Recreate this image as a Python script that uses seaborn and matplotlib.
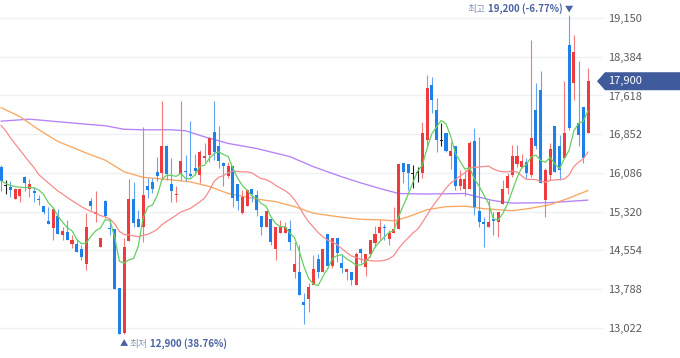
import numpy as np
import pandas as pd
import seaborn as sns
import matplotlib
matplotlib.use("Agg")
import matplotlib.pyplot as plt
import matplotlib.transforms as mtrans
from matplotlib.patches import Polygon

# ---------------- data ----------------
opens = [16210, 15830, 15800, 15570, 15630, 16010, 15770, 15730, 15570, 15430,
         15140, 14990, 15240, 14860, 14910, 14680, 14680, 14580, 14280, 15530,
         15270, 14620, 15530, 14990, 14970, 13820, 12920, 14740, 15570, 15170,
         15020, 15830, 15910, 16110, 16080, 16610, 15860, 15650, 16070, 16130,
         16070, 16190, 16050, 16390, 16440, 16900, 16620, 16280, 16030, 16220,
         15870, 15290, 15430, 15760, 15650, 15240, 15010, 15170, 14580, 14890,
         14890, 14970, 14130, 14130, 13530, 13590, 13870, 14380, 14130, 14870,
         14250, 14810, 14310, 14130, 14120, 13870, 14580, 14230, 14480, 14700,
         14890, 15020, 14790, 14890, 14970, 16280, 16260, 16070, 16080, 16080,
         16740, 17830, 17330, 16720, 16870, 16420, 16610, 15830, 15760, 15760,
         16720, 15340, 15120, 15020, 15170, 15120, 15480, 15780, 16050, 16260,
         16210, 16310, 16050, 17330, 17730, 15550, 16050, 17020, 16620, 16380,
         18620, 17870, 17070, 17400, 16870]
highs = [16240, 15950, 15930, 15780, 15780, 16030, 15960, 15800, 15660, 15430,
         15410, 15370, 15370, 15020, 15160, 14860, 14780, 14660, 15290, 15590,
         15720, 14810, 15550, 15170, 14970, 13820, 14810, 15960, 15910, 15350,
         17000, 15980, 15990, 16410, 17500, 16640, 16380, 15820, 17510, 16440,
         17110, 16460, 16540, 16670, 16800, 17510, 17020, 16310, 16310, 16220,
         15870, 15750, 15760, 15760, 15750, 15240, 15340, 15170, 15010, 15160,
         15120, 15160, 14730, 14660, 13710, 13920, 14460, 14480, 14580, 14870,
         14810, 14810, 14480, 14180, 14120, 14530, 14600, 14480, 14770, 15040,
         15160, 15080, 14960, 15420, 16260, 16280, 16260, 16240, 16210, 17100,
         18020, 17990, 17560, 17070, 16870, 16690, 16610, 16150, 16150, 16720,
         16970, 16800, 15220, 15550, 15320, 15320, 15950, 16080, 16640, 16640,
         16460, 16380, 18720, 17870, 18100, 16180, 16670, 17020, 16840, 17900,
         19200, 18810, 18300, 17400, 18160]
lows = [15720, 15670, 15620, 15570, 15520, 15720, 15620, 15510, 15450, 15270,
        15070, 14760, 14880, 14760, 14770, 14600, 14530, 14370, 14170, 15350,
        15120, 14620, 15190, 14860, 13790, 12900, 12900, 14740, 15020, 15010,
        14730, 15590, 15700, 15930, 15950, 15950, 15520, 15520, 15950, 15930,
        16010, 16050, 15880, 16310, 16310, 16340, 16180, 15820, 15990, 15420,
        15350, 15280, 15430, 15520, 15240, 14860, 15010, 14660, 14370, 14890,
        14890, 14560, 14000, 13670, 13110, 13340, 13870, 14000, 14130, 14200,
        14210, 14330, 14100, 13970, 13870, 13870, 14300, 14040, 14430, 14630,
        14790, 14760, 14660, 14890, 14970, 15880, 15750, 15780, 15910, 15980,
        16610, 17270, 16510, 16620, 16510, 16160, 15740, 15740, 15630, 15760,
        15260, 15020, 14620, 15020, 14860, 14830, 15480, 15680, 16010, 16210,
        16180, 15980, 16010, 16570, 15880, 15220, 15950, 16110, 15950, 16380,
        16940, 17530, 16610, 16280, 16870]
closes = [15930, 15830, 15750, 15760, 15760, 15880, 15860, 15700, 15550, 15320,
          15070, 15370, 14880, 14930, 14770, 14770, 14530, 14430, 15010, 15430,
          15310, 14810, 15240, 14970, 13790, 12900, 14620, 15570, 15090, 15010,
          15660, 15740, 15760, 16030, 16610, 16070, 15720, 15670, 16320, 16100,
          16030, 16130, 16510, 16420, 16770, 16510, 16320, 16230, 16220, 15600,
          15530, 15610, 15750, 15670, 15350, 15020, 15340, 14730, 15010, 15020,
          15010, 14730, 14280, 13670, 13480, 13830, 14190, 14130, 14580, 14250,
          14810, 14500, 14200, 14180, 13970, 14480, 14500, 14480, 14770, 14870,
          15020, 14990, 14890, 14970, 16260, 16110, 16080, 16070, 16080, 16870,
          17760, 17530, 16740, 16720, 16530, 16530, 15830, 15960, 15960, 16670,
          15420, 15120, 15080, 15120, 15140, 15320, 15760, 16030, 16420, 16420,
          16320, 16080, 16770, 16610, 15880, 16150, 16570, 16110, 16150, 16870,
          16970, 18480, 16840, 16380, 17900]

# first 19 points of the 20-day average (history before the visible window)
ma20_head = [17030, 16920, 16780, 16660, 16540, 16420, 16300, 16190, 16050,
             15970, 15890, 15810, 15730, 15670, 15600, 15540, 15480, 15420, 15370]

ma60_idx = [0, 4, 8, 12, 18, 22, 26, 30, 36, 40, 44, 48, 54, 58, 62, 66, 72,
            76, 80, 83, 86, 90, 94, 98, 102, 108, 112, 116, 120, 124]
ma60_val = [17380, 17200, 16940, 16710, 16480, 16340, 16110, 16000, 15950,
            15910, 15820, 15680, 15570, 15520, 15420, 15290, 15210, 15170,
            15160, 15140, 15220, 15360, 15420, 15430, 15380, 15340, 15390,
            15460, 15590, 15740]

ma120_idx = [0, 6, 12, 18, 22, 26, 30, 36, 39, 43, 48, 54, 61, 66, 72, 76, 80,
             84, 90, 98, 100, 104, 108, 116, 124]
ma120_val = [17110, 17150, 17100, 17050, 17020, 16950, 16940, 16940, 16920,
             16800, 16670, 16570, 16410, 16210, 16010, 15890, 15780, 15680,
             15670, 15680, 15630, 15540, 15490, 15500, 15550]

y_ticks = [13022, 13788, 14554, 15320, 16086, 16852, 17618, 18384, 19150]
last_price = 17900
high_word, high_text = "최고", "19,200 (-6.77%)"
low_word, low_text = "최저", "12,900 (38.76%)"

# ---------------- style ----------------
sns.set_theme(style="white")
plt.rcParams["font.family"] = ["Noto Sans CJK KR", "DejaVu Sans"]

RED, BLUE, BLACK = "#ee3b3e", "#2080ea", "#222222"
RED_W, BLUE_W = "#f27a7a", "#62a4f2"
C_MA5, C_MA20, C_MA60, C_MA120 = "#66cf60", "#f68c8c", "#f8a862", "#b482f6"
NAVY = "#4a64a3"

n = len(closes)
df = pd.DataFrame({"idx": np.arange(n), "open": opens, "high": highs,
                   "low": lows, "close": closes})
df["ma5"] = df["close"].rolling(5, min_periods=1).mean()
ma20 = df["close"].rolling(20).mean().to_numpy()
ma20[:len(ma20_head)] = ma20_head
df["ma20"] = ma20

W, H = 680, 358
fig = plt.figure(figsize=(W / 100, H / 100), dpi=100)
fig.patch.set_facecolor("white")
ax = fig.add_axes([0, 0, 603 / W, 1])
ax.set_facecolor("white")

step = 4.734
ax.set_xlim(-1 / step, -1 / step + 603 / step)
ax.set_ylim(12428, 19506)

ax.set_yticks(y_ticks)
ax.set_yticklabels([f"{v:,}" for v in y_ticks])
ax.yaxis.tick_right()
ax.tick_params(axis="y", length=0, pad=4, labelsize=8, labelcolor="#5a5a5a")
ax.set_xticks([])
ax.grid(axis="y", color="#eef0f4", lw=1.0)
ax.grid(axis="x", visible=False)
for s in ax.spines.values():
    s.set_visible(False)

# ---------------- moving averages ----------------
sns.lineplot(x=ma120_idx, y=ma120_val, ax=ax, color=C_MA120, lw=0.95, legend=False, zorder=2)
sns.lineplot(x=ma60_idx, y=ma60_val, ax=ax, color=C_MA60, lw=0.95, legend=False, zorder=2)

# ---------------- candles ----------------
o = df["open"].to_numpy(); c = df["close"].to_numpy()
body_col = np.where(c > o, RED, np.where(c < o, BLUE, BLACK))
wick_col = np.where(c > o, RED_W, np.where(c < o, BLUE_W, BLACK))
ax.vlines(df["idx"], df["low"], df["high"], colors=wick_col, lw=0.8, zorder=3)
bottoms = np.minimum(o, c)
heights = np.maximum(np.abs(c - o), 22)
ax.bar(df["idx"], heights, bottom=bottoms, width=0.64, color=body_col,
       linewidth=0, zorder=4)

sns.lineplot(data=df, x="idx", y="ma20", ax=ax, color=C_MA20, lw=0.9, legend=False, zorder=5)
sns.lineplot(data=df, x="idx", y="ma5", ax=ax, color=C_MA5, lw=0.9, legend=False, zorder=6)
ax.set_xlabel(""); ax.set_ylabel("")

# ---------------- high / low labels ----------------
hi_i = int(np.argmax(highs))
lo_i = int(len(lows) - 1 - np.argmin(lows[::-1]))
t_hi = ax.annotate("▼", xy=(hi_i, highs[hi_i]), xytext=(0, 6.5),
                   textcoords="offset pixels", ha="center", va="center",
                   fontsize=6, color=NAVY)
t_hi2 = ax.annotate(high_text, xy=(0, 0.5), xycoords=t_hi, xytext=(-2, 0),
                    textcoords="offset pixels", ha="right", va="center",
                    fontsize=7, fontweight="bold", color=NAVY)
ax.annotate(high_word, xy=(0, 0.5), xycoords=t_hi2, xytext=(-3, 0),
            textcoords="offset pixels", ha="right", va="center",
            fontsize=7, color="#8795bb")

t_lo = ax.annotate("▲", xy=(lo_i, lows[lo_i]), xytext=(0, -9.5),
                   textcoords="offset pixels", ha="center", va="center",
                   fontsize=6, color=NAVY)
t_lo2 = ax.annotate(low_word, xy=(1, 0.5), xycoords=t_lo, xytext=(1, 0),
                    textcoords="offset pixels", ha="left", va="center",
                    fontsize=7, color="#8795bb")
ax.annotate(low_text, xy=(1, 0.5), xycoords=t_lo2, xytext=(3, 0),
            textcoords="offset pixels", ha="left", va="center",
            fontsize=7, fontweight="bold", color=NAVY)

# ---------------- current price tag ----------------
trans = mtrans.blended_transform_factory(fig.transFigure, ax.transData)
half = 9 * (19506 - 12428) / H
tag = Polygon([(597 / W, last_price), (605 / W, last_price + half),
               (1.0, last_price + half), (1.0, last_price - half),
               (605 / W, last_price - half)], closed=True,
              transform=trans, facecolor="#3f5b9b", edgecolor="none",
              zorder=10, clip_on=False)
fig.patches.append(tag)
fig.text(608 / W, last_price, f"{last_price:,}", transform=trans, color="white",
         fontsize=8, va="center", ha="left", zorder=11)

fig.savefig("out.png", dpi=100, facecolor="white")
